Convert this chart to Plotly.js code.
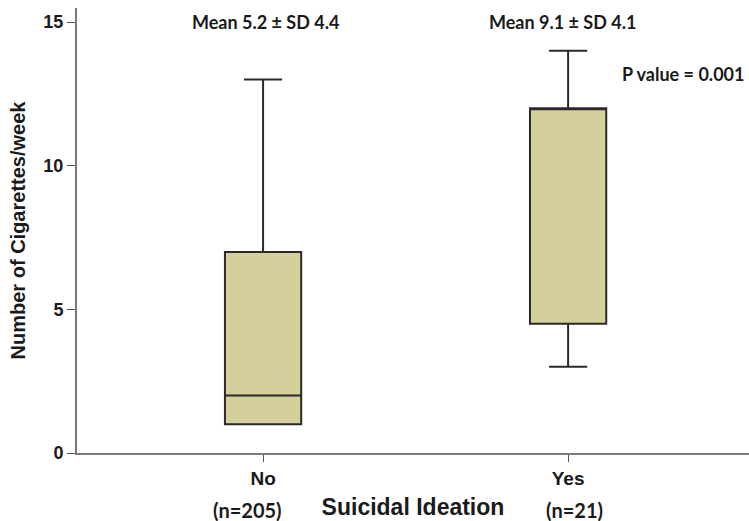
<!DOCTYPE html>
<html>
<head>
<meta charset="utf-8">
<script src="https://cdn.plot.ly/plotly-3.0.1.min.js"></script>
<style>
  html, body { margin: 0; padding: 0; background: #fff; }
  #chart { width: 749px; height: 521px; }
</style>
</head>
<body>
<div id="chart"></div>
<script>
// Data
const categories = ['No', 'Yes'];
const q1Values = [1, 4.5];
const medianValues = [2, 12];
const q3Values = [7, 12];
const lowerFence = [1, 3];
const upperFence = [13, 14];
const meanLabels = ['Mean 5.2 ± SD 4.4', 'Mean 9.1 ± SD 4.1'];
const nLabels = ['(n=205)', '(n=21)'];
const pValueLabel = 'P value = 0.001';
const yTicks = [0, 5, 10, 15];

const arialBold = '"Liberation Sans"';
const calibriLike = 'Lato';

const trace = {
  type: 'box',
  x: categories,
  q1: q1Values,
  median: medianValues,
  q3: q3Values,
  lowerfence: lowerFence,
  upperfence: upperFence,
  boxpoints: false,
  width: 0.25,
  whiskerwidth: 0.5,
  fillcolor: '#D4CF9B',
  line: { color: '#2a2a2a', width: 2 },
  hoverinfo: 'skip',
  showlegend: false
};

const annotations = [];
categories.forEach((c, i) => {
  annotations.push({
    x: c, y: 15, xref: 'x', yref: 'y',
    text: '<b>' + meanLabels[i] + '</b>',
    showarrow: false, xanchor: 'center', yanchor: 'middle',
    xshift: i === 0 ? 2 : -6,
    font: { family: calibriLike, size: 18, color: '#1a1a1a' }
  });
  annotations.push({
    x: c, y: 0, xref: 'x', yref: 'y',
    text: '<b>' + nLabels[i] + '</b>',
    showarrow: false, xanchor: 'center', yanchor: 'middle',
    xshift: i === 0 ? -16 : 6, yshift: -57,
    font: { family: calibriLike, size: 20, color: '#1a1a1a' }
  });
});
annotations.push({
  x: 1.377, y: 13.2, xref: 'x', yref: 'y',
  text: '<b>' + pValueLabel + '</b>',
  showarrow: false, xanchor: 'center', yanchor: 'middle',
  font: { family: calibriLike, size: 18, color: '#1a1a1a' }
});

const layout = {
  width: 749, height: 521,
  margin: { l: 77, r: 0, t: 8, b: 68 },
  paper_bgcolor: '#ffffff',
  plot_bgcolor: '#ffffff',
  xaxis: {
    type: 'category',
    range: [-0.61, 1.593],
    showgrid: false, zeroline: false,
    showline: true, linecolor: '#7a7a7a', linewidth: 2,
    ticks: 'outside', ticklen: 7, tickcolor: '#555', tickwidth: 1,
    tickfont: { family: arialBold, size: 19, color: '#1a1a1a', weight: 'bold' },
    title: { text: '<b>Suicidal Ideation</b>', standoff: 11,
             font: { family: arialBold, size: 23, color: '#1a1a1a' } }
  },
  yaxis: {
    range: [0, 15.49],
    tickvals: yTicks,
    showgrid: false, zeroline: false,
    showline: true, linecolor: '#7a7a7a', linewidth: 2,
    ticks: 'outside', ticklen: 8, tickcolor: '#555', tickwidth: 1,
    tickfont: { family: arialBold, size: 18, color: '#1a1a1a', weight: 'bold' },
    title: { text: '<b>Number of Cigarettes/week</b>', standoff: 12,
             font: { family: arialBold, size: 20, color: '#1a1a1a' } }
  },
  annotations: annotations
};

Plotly.newPlot('chart', [trace], layout, { displayModeBar: false, staticPlot: true });
</script>
</body>
</html>
